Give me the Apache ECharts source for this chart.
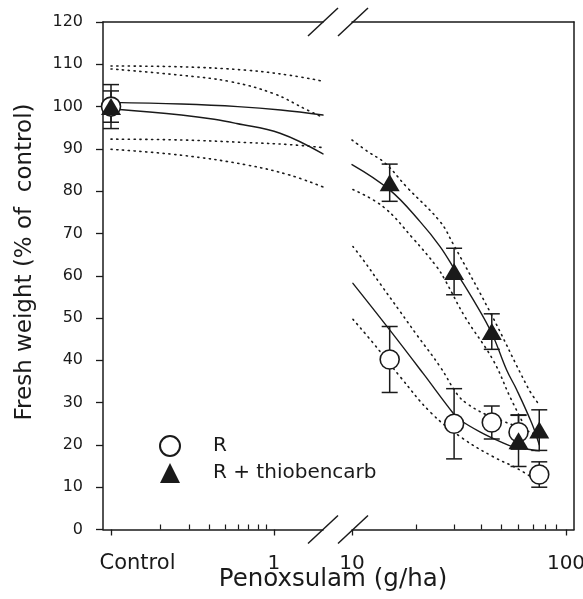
<!DOCTYPE html>
<html>
<head>
<meta charset="utf-8">
<script src="https://cdn.jsdelivr.net/npm/echarts@6/dist/echarts.min.js"></script>
<style>html,body{margin:0;padding:0;background:#fff}#c{width:583px;height:599px}</style>
</head>
<body>
<div id="c"></div>
<script>
// ---------- data ----------
const controlDose = 0.1;                 // "Control" plotted at 0.1 g/ha on the left log segment
const doses = [15, 30, 45, 60, 75];       // g/ha
const rMean = [40.2, 25.0, 25.3, 23.0, 13.0];
const rErr = [7.8, 8.3, 3.9, 4.0, 3.0];
const thioMean = [82.0, 61.0, 46.8, 21.0, 23.5];
const thioErr = [4.4, 5.5, 4.2, 6.1, 4.8];
const rControl = [100, 3.7];
const thioControl = [100, 5.2];

// fitted curves and confidence bands, left segment [dose, value]
const thioFitLeft = [[0.1,101.0],[0.27,100.6],[0.6,100.0],[1.1,99.2],[2.0,98.0]];
const thioUpLeft  = [[0.1,109.6],[0.27,109.4],[0.68,108.6],[1.25,107.4],[2.0,106.0]];
const thioLoLeft  = [[0.1,92.3],[0.27,92.1],[0.68,91.5],[1.25,91.0],[2.0,90.3]];
const rFitLeft    = [[0.1,99.5],[0.27,98.0],[0.43,97.0],[0.59,96.0],[1.09,93.7],[2.0,88.8]];
const rUpLeft     = [[0.1,108.9],[0.27,107.4],[0.54,105.9],[0.99,103.1],[1.58,99.3],[2.0,97.4]];
const rLoLeft     = [[0.1,89.9],[0.27,88.5],[0.68,86.2],[1.25,83.8],[2.0,81.0]];

// right segment [dose, value]
const thioFitRight = [[10,86.3],[15,80.3],[20.8,72.8],[25.8,66.9],[30.3,61.3],[36.9,54.3],[45,46.4],[52.8,37.7],[58.9,33.0],[69.2,25.1],[75,20.0]];
const thioUpRight  = [[10,92.1],[11.9,89.3],[14.3,86.6],[18,81.0],[25.8,72.8],[29.7,67.5],[44.1,51.5],[66.6,33.4],[74.2,29.8]];
const thioLoRight  = [[10.1,80.4],[14,76.3],[19.3,68.8],[24.9,62.1],[27.2,59.0],[33.7,50.3],[45.6,40.1],[54.7,31.4],[63.1,25.1]];
const rFitRight    = [[10.1,58.2],[15,47.2],[21.5,36.9],[29.7,27.5],[32,25.9],[39.6,23.1],[49.2,20.8],[56.5,19.6],[70,18.8],[75,18.6]];
const rUpRight     = [[10.1,66.9],[11.3,63.7],[13.5,58.2],[16.8,51.5],[20.1,46.0],[25.8,38.5],[31,32.0],[34.4,29.8],[42.6,27.1],[56.6,24.7],[70.4,22.7]];
const rLoRight     = [[10.1,49.7],[12.6,44.0],[16.8,36.1],[23.5,27.5],[33,21.5],[45.7,17.2],[58.8,14.5],[70.4,12.1]];

// axis ticks
const leftMajor = [0.1, 1];
const leftMinor = [0.2,0.3,0.4,0.5,0.6,0.7,0.8,0.9];
const rightMajor = [10, 100];
const rightMinor = [20,30,40,50,60,70,80,90];
const leftRange = [0.0893, 2.0];
const rightRange = [10, 109];
const yTicks = [0,10,20,30,40,50,60,70,80,90,100,110,120];

const legendNames = ['R', 'R + thiobencarb'];
const xTitle = 'Penoxsulam (g/ha)';
const yTitle = 'Fresh weight (% of  control)';

// ---------- chart ----------
const L = Math.log10;
const FONT = '"DejaVu Sans", "Liberation Sans", Arial, sans-serif';
const INK = '#1a1a1a';
const pts = a => a.map(p => [L(p[0]), p[1]]);
const near = (a, b) => Math.abs(a - b) < 1e-6;

const G = {top: 22, bottom: 69.5, lLeft: 103, lWidth: 220, rLeft: 352, right: 9};

function xAxes(gi, range, major, minor, labelFmt) {
  const base = {gridIndex: gi, type: 'value', min: L(range[0]), max: L(range[1]),
    splitLine: {show: false}, axisPointer: {show: false}};
  return [
    Object.assign({}, base, {position: 'bottom',
      axisLine: {show: true, onZero: false, lineStyle: {color: INK, width: 1.5}},
      axisTick: {show: true, inside: false, length: 6, customValues: major.map(L), lineStyle: {color: INK, width: 1.3}},
      axisLabel: {show: true, customValues: major.map(L), formatter: labelFmt, margin: 24,
        fontFamily: FONT, fontSize: 20, color: INK,
        rich: {c: {fontFamily: FONT, fontSize: 21, color: INK, padding: [0, 0, 0, 53]}}}}),
    Object.assign({}, base, {position: 'bottom', offset: 0,
      axisLine: {show: false},
      axisTick: {show: true, inside: true, length: 5, customValues: minor.map(L), lineStyle: {color: INK, width: 1.2}},
      axisLabel: {show: false}}),
    Object.assign({}, base, {position: 'top',
      axisLine: {show: true, onZero: false, lineStyle: {color: INK, width: 1.5}},
      axisTick: {show: false}, axisLabel: {show: false}})
  ];
}

const xAxis = [].concat(
  xAxes(0, leftRange, leftMajor, leftMinor, v => near(v, L(controlDose)) ? '{c|Control}' : '1'),
  xAxes(1, rightRange, rightMajor, rightMinor, v => String(Math.round(Math.pow(10, v))))
);

const yAxis = [
  {gridIndex: 0, type: 'value', min: 0, max: 120, interval: 10, position: 'left',
   splitLine: {show: false},
   axisLine: {show: true, onZero: false, lineStyle: {color: INK, width: 1.5}},
   axisTick: {show: true, inside: false, length: 7, lineStyle: {color: INK, width: 1.3}},
   axisLabel: {margin: 20, fontFamily: FONT, fontSize: 16, color: INK,
     formatter: v => yTicks.indexOf(v) >= 0 ? String(v) : ''}},
  {gridIndex: 1, type: 'value', min: 0, max: 120, position: 'right',
   splitLine: {show: false},
   axisLine: {show: true, onZero: false, lineStyle: {color: INK, width: 1.5}},
   axisTick: {show: false}, axisLabel: {show: false}}
];

function curve(name, data, xi, yi, dotted) {
  return {type: 'line', name: name, xAxisIndex: xi, yAxisIndex: yi, data: pts(data),
    showSymbol: false, symbol: 'none', smooth: 0.4, silent: true, z: 2,
    lineStyle: {color: INK, width: dotted ? 1.6 : 1.4, type: dotted ? [1.2, 4.6] : 'solid', cap: 'round', join: 'round'}};
}

function errRender(params, api) {
  const x = api.value(0), y = api.value(1), e = api.value(2);
  const t = api.coord([x, y + e]), b = api.coord([x, y - e]);
  const hw = 8;
  const st = {stroke: INK, lineWidth: 1.5, fill: null};
  return {type: 'group', children: [
    {type: 'line', shape: {x1: t[0], y1: t[1], x2: b[0], y2: b[1]}, style: st},
    {type: 'line', shape: {x1: t[0] - hw, y1: t[1], x2: t[0] + hw, y2: t[1]}, style: st},
    {type: 'line', shape: {x1: b[0] - hw, y1: b[1], x2: b[0] + hw, y2: b[1]}, style: st}
  ]};
}
function errSeries(data, xi, yi) {
  return {type: 'custom', xAxisIndex: xi, yAxisIndex: yi, renderItem: errRender, clip: false,
    silent: true, z: 3, encode: {x: 0, y: 1}, data: data};
}

const rStyle = {color: '#ffffff', borderColor: INK, borderWidth: 1.6, opacity: 1};
const tStyle = {color: INK, borderColor: INK, borderWidth: 0, opacity: 1};
function marks(name, data, xi, yi, isTri) {
  return {type: 'scatter', name: name, xAxisIndex: xi, yAxisIndex: yi, data: data,
    symbol: isTri ? 'triangle' : 'circle', symbolSize: isTri ? [20, 17] : 19,
    itemStyle: isTri ? tStyle : rStyle, z: isTri ? 5 : 4, silent: true};
}

const rightR = doses.map((d, i) => [L(d), rMean[i], rErr[i]]);
const rightT = doses.map((d, i) => [L(d), thioMean[i], thioErr[i]]);
const ctrlR = [[L(controlDose), rControl[0], rControl[1]]];
const ctrlT = [[L(controlDose), thioControl[0], thioControl[1]]];

const series = [
  curve('fitT0', thioFitLeft, 0, 0, false), curve('upT0', thioUpLeft, 0, 0, true), curve('loT0', thioLoLeft, 0, 0, true),
  curve('fitR0', rFitLeft, 0, 0, false), curve('upR0', rUpLeft, 0, 0, true), curve('loR0', rLoLeft, 0, 0, true),
  curve('fitT1', thioFitRight, 3, 1, false), curve('upT1', thioUpRight, 3, 1, true), curve('loT1', thioLoRight, 3, 1, true),
  curve('fitR1', rFitRight, 3, 1, false), curve('upR1', rUpRight, 3, 1, true), curve('loR1', rLoRight, 3, 1, true),
  errSeries(ctrlR.concat(ctrlT), 0, 0),
  errSeries(rightR.concat(rightT), 3, 1),
  marks(legendNames[0], ctrlR, 0, 0, false), marks(legendNames[0], rightR, 3, 1, false),
  marks(legendNames[1], ctrlT, 0, 0, true), marks(legendNames[1], rightT, 3, 1, true)
];

// axis-break slashes (decoration)
const bT = G.top, bB = 599 - G.bottom;
const brk = [G.lLeft + G.lWidth, G.rLeft + 1];
const slashes = [];
[bT, bB].forEach(yc => brk.forEach(xc => slashes.push({type: 'line', z: 100,
  shape: {x1: xc - 15, y1: yc + 14, x2: xc + 15, y2: yc - 14},
  style: {stroke: INK, lineWidth: 1.5}})));

const option = {
  animation: false,
  backgroundColor: '#ffffff',
  grid: [
    {left: G.lLeft, top: G.top, width: G.lWidth, bottom: G.bottom, outerBoundsMode: 'none', containLabel: false},
    {left: G.rLeft, top: G.top, right: G.right, bottom: G.bottom, outerBoundsMode: 'none', containLabel: false}
  ],
  xAxis: xAxis,
  yAxis: yAxis,
  legend: {
    data: [{name: legendNames[0], icon: 'circle'}, {name: legendNames[1], icon: 'triangle'}],
    orient: 'vertical', left: 159, top: 435, padding: 0, itemWidth: 20, itemHeight: 20, itemGap: 6,
    selectedMode: false,
    textStyle: {fontFamily: FONT, fontSize: 20, color: INK, padding: [0, 0, 0, 28]}
  },
  graphic: [
    {type: 'text', x: 25, y: 262, rotation: Math.PI / 2, z: 100,
     style: {text: yTitle, fontFamily: FONT, fontSize: 23, fill: INK, align: 'center', verticalAlign: 'middle'}},
    {type: 'text', x: 333, y: 580, z: 100,
     style: {text: xTitle, fontFamily: FONT, fontSize: 24.5, fill: INK, align: 'center', verticalAlign: 'middle'}}
  ].concat(slashes),
  series: series
};

const chart = echarts.init(document.getElementById('c'), null, {renderer: 'canvas'});
chart.setOption(option);
</script>
</body>
</html>
